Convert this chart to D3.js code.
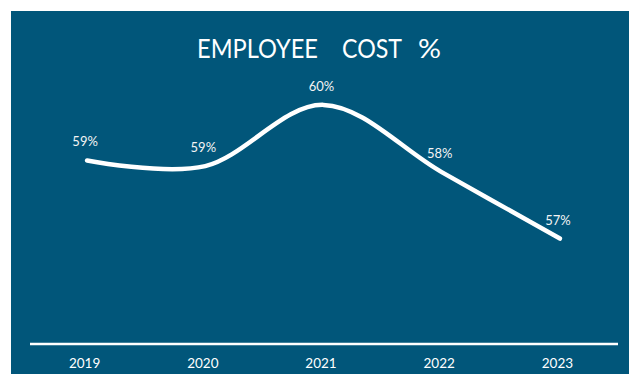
<!DOCTYPE html>
<html>
<head>
<meta charset="utf-8">
<script src="https://cdn.jsdelivr.net/npm/d3@7"></script>
<style>
  html, body { margin: 0; padding: 0; background: #ffffff; }
  svg { display: block; }
</style>
</head>
<body>
<script>
// Employee cost as a share of revenue, by year
const years = ["2019", "2020", "2021", "2022", "2023"];
const costPct = [58.76, 58.62, 60.14, 58.47, 56.82];
const titleWords = ["EMPLOYEE", "COST", "%"];

const W = 631, H = 374;
const bg = "#01567a";
const fontFamily = "Lato, 'Open Sans', sans-serif";

const svg = d3.select("body").append("svg")
  .attr("width", W).attr("height", H);

// panel
svg.append("rect")
  .attr("x", 11).attr("y", 11)
  .attr("width", 618).attr("height", H - 11)
  .attr("fill", bg);

// title, set word by word with wide gaps and narrow letterforms
const wordX = [197, 342, 418];
const wordLen = [121, 60, 23];
const titleText = svg.append("text")
  .attr("y", 58)
  .attr("fill", "#ffffff")
  .attr("font-family", fontFamily)
  .attr("font-size", 27.5)
  .attr("font-weight", 400);
titleText.selectAll("tspan")
  .data(titleWords)
  .join("tspan")
  .attr("x", (d, i) => wordX[i])
  .attr("textLength", (d, i) => wordLen[i])
  .attr("lengthAdjust", "spacingAndGlyphs")
  .text(d => d);

const x = d3.scalePoint().domain(years).range([28, 619]).padding(0.5);
const y = d3.scaleLinear().domain([54.2, 62]).range([344, 30]);

// category axis along the bottom
const axis = d3.axisBottom(x).tickSize(0).tickPadding(0);
const gAxis = svg.append("g")
  .attr("transform", "translate(0,344)")
  .call(axis);
gAxis.select(".domain")
  .attr("d", "M30,0H618")
  .attr("stroke", "#ffffff")
  .attr("stroke-width", 2.5);
gAxis.selectAll(".tick text")
  .attr("fill", "#ffffff")
  .attr("font-family", fontFamily)
  .attr("font-size", 13.5)
  .attr("dy", 24)
  .attr("dx", -3)
  .attr("y", 0);

const pts = years.map((yr, i) => ({ yr, v: costPct[i] }));

const line = d3.line()
  .x(d => x(d.yr))
  .y(d => y(d.v))
  .curve(d3.curveCardinal.tension(0));

svg.append("path")
  .datum(pts)
  .attr("d", line)
  .attr("fill", "none")
  .attr("stroke", "#ffffff")
  .attr("stroke-width", 4.5)
  .attr("stroke-linecap", "round")
  .attr("stroke-linejoin", "round");

const fmt = d3.format(".0f");
svg.append("g").selectAll("text")
  .data(pts)
  .join("text")
  .attr("x", d => x(d.yr) - 2)
  .attr("y", d => y(d.v) - 14)
  .attr("text-anchor", "middle")
  .attr("fill", "#f4f4f4")
  .attr("font-family", fontFamily)
  .attr("font-size", 13)
  .text(d => fmt(d.v) + "%");
</script>
</body>
</html>
